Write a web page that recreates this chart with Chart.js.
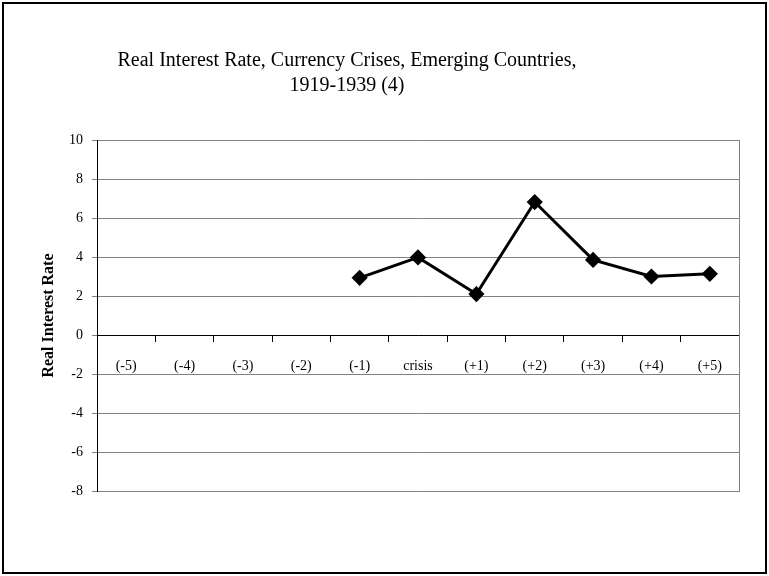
<!DOCTYPE html>
<html>
<head>
<meta charset="utf-8">
<script src="https://cdn.jsdelivr.net/npm/chart.js@4"></script>
<style>
  html, body { margin: 0; padding: 0; background: #fff; }
  #frame {
    position: relative;
    margin: 2px;
    width: 765px;
    height: 572px;
    box-sizing: border-box;
    border: 2px solid #000;
    overflow: hidden;
  }
  /* canvas is wider and pushed left so the title centre lands where the original has it */
  #chart { position: absolute; left: -49px; top: -4px; }
</style>
</head>
<body>
<div id="frame">
  <canvas id="chart" width="812" height="576"></canvas>
</div>
<script>
var categories = ["(-5)", "(-4)", "(-3)", "(-2)", "(-1)", "crisis", "(+1)", "(+2)", "(+3)", "(+4)", "(+5)"];
var realRate = [null, null, null, null, 2.93, 3.98, 2.1, 6.82, 3.85, 3.0, 3.14];
var titleLines = ["Real Interest Rate, Currency Crises, Emerging Countries,", "1919-1939 (4)"];
var yMin = -8, yMax = 10, yStep = 2;

var serif = "'Liberation Serif', 'DejaVu Serif', serif";

Chart.defaults.font.family = serif;
Chart.defaults.color = "#000";

new Chart(document.getElementById("chart"), {
  type: "line",
  data: {
    labels: categories,
    datasets: [
      {
        label: "Real Interest Rate",
        data: realRate,
        borderColor: "#000",
        backgroundColor: "#000",
        borderWidth: 3,
        pointStyle: "rectRot",
        pointRadius: 6,
        pointHoverRadius: 6,
        pointBackgroundColor: "#000",
        pointBorderColor: "#000",
        tension: 0,
        fill: false,
      },
    ],
  },
  options: {
    responsive: false,
    animation: false,
    layout: { padding: { left: 0, right: 28, top: 0, bottom: 85 } },
    plugins: {
      legend: { display: false },
      tooltip: { enabled: false },
      title: {
        display: true,
        text: titleLines,
        color: "#000",
        font: { family: serif, size: 20, weight: "normal", lineHeight: 1.25 },
        padding: { top: 48.5, bottom: 41.5 },
      },
    },
    scales: {
      x: {
        type: "category",
        position: { y: 0 },
        offset: true,
        grid: {
          offset: true,
          drawOnChartArea: false,
          drawTicks: true,
          tickLength: 6,
          color: "#000",
        },
        border: { display: true, color: "#000", width: 1 },
        ticks: {
          color: "#000",
          font: { family: serif, size: 14 },
          padding: 17,
          maxRotation: 0,
          autoSkip: false,
        },
      },
      y: {
        min: yMin,
        max: yMax,
        ticks: {
          stepSize: yStep,
          color: "#000",
          font: { family: serif, size: 14 },
          padding: 9,
        },
        grid: { color: "#808080", lineWidth: 1, tickLength: 5 },
        border: { display: true, color: "#000", width: 1 },
        title: {
          display: true,
          text: "Real Interest Rate",
          color: "#000",
          font: { family: serif, size: 16, weight: "bold" },
          padding: { top: 84, bottom: 0 },
        },
        afterFit: function (scale) {
          scale.width = 142;
        },
      },
      y2: {
        position: "right",
        min: yMin,
        max: yMax,
        ticks: { display: false },
        grid: { display: false, drawTicks: false },
        border: { display: true, color: "#808080", width: 1 },
        afterFit: function (scale) {
          scale.width = 0;
        },
      },
    },
  },
});
</script>
</body>
</html>
